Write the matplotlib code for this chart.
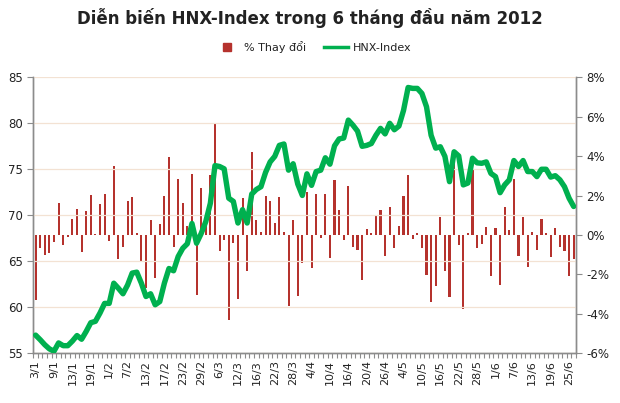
import matplotlib
matplotlib.use("Agg")
import matplotlib.pyplot as plt
from matplotlib.lines import Line2D
from matplotlib.ticker import FuncFormatter

# Daily % change of HNX-Index (right axis), one value per trading day
pct_change = [
    -3.3, -0.68, -1.0, -0.9, -0.34, 1.6, -0.5, -0.1, 0.8, 1.3,
    -0.85, 1.2, 2.05, 0.05, 1.55, 2.1, -0.3, 3.5, -1.2, -0.6,
    1.7, 1.9, 0.1, -1.35, -2.7, 0.78, -2.2, 0.57, 2.0, 3.97,
    -0.63, 2.82, 1.64, 0.45, 3.1, -3.06, 2.37, 1.0, 3.04, 5.68,
    -0.82, -0.25, -4.3, -0.41, -3.25, 1.87, -1.84, 4.19, 0.77, 0.16,
    2.0, 1.7, 0.6, 1.9, 0.16, -3.63, 0.74, -3.1, -1.42, 2.2,
    -1.69, 2.1, -0.17, 2.1, -1.18, 2.77, 1.27, -0.25, 2.5, -0.59,
    -0.79, -2.3, 0.32, 0.09, 1.0, 1.24, -1.08, 1.41, -0.67, 0.43,
    1.96, 3.06, -0.2, 0.12, -0.68, -2.03, -3.41, -2.6, 0.93, -1.85,
    -3.13, 4.0, -0.51, -3.78, 0.08, 3.3, -0.68, -0.46, 0.42, -2.08,
    0.35, -2.54, 1.44, 0.27, 2.82, -1.08, 0.93, -1.62, 0.17, -0.76,
    0.79, 0.08, -1.13, 0.35, -0.63, -0.8, -2.08, -1.2,
]

# HNX-Index close (left axis)
hnx_index = [
    56.95, 56.45, 55.9, 55.45, 55.2, 56.1, 55.8, 55.8, 56.3, 56.9,
    56.5, 57.35, 58.3, 58.45, 59.35, 60.4, 60.4, 62.6, 62.05, 61.45,
    62.4, 63.7, 63.8, 62.6, 61.15, 61.45, 60.25, 60.6, 62.6, 64.2,
    63.95, 65.5, 66.4, 66.9, 69.1, 66.95, 68.0, 69.3, 71.3, 75.4,
    75.3, 75.05, 71.85, 71.5, 69.15, 70.6, 69.15, 72.3, 72.8, 73.1,
    74.65, 75.8, 76.4, 77.6, 77.75, 74.9, 75.6, 73.4, 72.15, 74.5,
    73.25, 74.75, 74.9, 76.25, 75.55, 77.55, 78.3, 78.4, 80.35, 79.8,
    79.15, 77.5, 77.6, 77.8, 78.7, 79.45, 78.85, 80.0, 79.3, 79.7,
    81.4, 83.9, 83.8, 83.8, 83.25, 81.8, 78.7, 77.3, 77.45, 76.4,
    73.65, 76.9, 76.45, 73.3, 73.5, 76.2, 75.7, 75.65, 75.8, 74.55,
    74.2, 72.45, 73.3, 73.85, 75.95, 75.3, 75.95, 74.75, 74.75, 74.2,
    75.0, 75.0, 74.15, 74.3, 73.85, 73.1, 71.85, 70.95,
]

# Date labels shown every 4th trading day
tick_labels = [
    "3/1", "9/1", "13/1", "19/1", "1/2", "7/2", "13/2", "17/2", "23/2", "29/2",
    "6/3", "12/3", "16/3", "22/3", "28/3", "4/4", "10/4", "16/4", "20/4", "26/4",
    "4/5", "10/5", "16/5", "22/5", "28/5", "1/6", "7/6", "13/6", "19/6", "25/6",
]

bar_color = "#B5322D"
line_color = "#00B04F"
grid_color = "#F3E2D3"
axis_color = "#8C8C8C"
text_color = "#222222"

n = len(hnx_index)
x = list(range(n))

fig = plt.figure(figsize=(6.2, 4.03), dpi=100)
ax = fig.add_axes([0.0537, 0.124, 0.8753, 0.684])
ax2 = ax.twinx()

# bars on the right (percent) axis
ax2.bar(x, pct_change, width=0.45, color=bar_color, zorder=2)
ax2.set_ylim(-6, 8)
ax2.set_yticks(range(-6, 9, 2))
ax2.yaxis.set_major_formatter(FuncFormatter(lambda v, p: f"{int(v)}%"))

# line on the left (index) axis, drawn on top
ax.set_zorder(ax2.get_zorder() + 1)
ax.patch.set_visible(False)
ax.plot(x, hnx_index, color=line_color, linewidth=3.9, solid_joinstyle="round",
        solid_capstyle="round", zorder=3)
ax.set_ylim(55, 85)
ax.set_yticks(range(55, 86, 5))
ax.grid(axis="y", color=grid_color, linewidth=0.9, zorder=0)
ax.set_axisbelow(True)

ax.set_xlim(-0.5, n - 0.5)
ax.set_xticks(range(0, n, 4))
ax.set_xticklabels(tick_labels[: len(range(0, n, 4))], rotation=90)
ax.set_xticks([i - 0.5 for i in range(n + 1)], minor=True)
ax.tick_params(axis="x", which="major", length=0, pad=5, labelsize=8, colors=text_color)
ax.tick_params(axis="x", which="minor", length=3.5, color=axis_color, width=0.8)
ax.tick_params(axis="y", length=4, color=axis_color, labelsize=8.5, labelcolor=text_color)
ax2.tick_params(axis="y", length=4, color=axis_color, labelsize=8.5, labelcolor=text_color)

for a in (ax, ax2):
    a.spines["top"].set_visible(False)
    for s in ("left", "right", "bottom"):
        a.spines[s].set_color(axis_color)
        a.spines[s].set_linewidth(1.0)

fig.text(0.5, 0.955, "Diễn biến HNX-Index trong 6 tháng đầu năm 2012",
         ha="center", va="center", fontsize=12, fontweight="bold", color=text_color)

handles = [
    Line2D([0], [0], linestyle="none", marker="s", markersize=6,
           markerfacecolor=bar_color, markeredgecolor=bar_color),
    Line2D([0], [0], color=line_color, linewidth=2.5),
]
fig.legend(handles, ["% Thay đổi", "HNX-Index"], loc="center", bbox_to_anchor=(0.505, 0.883),
           ncol=2, frameon=False, fontsize=8, handlelength=2.2,
           columnspacing=1.6, handletextpad=0.4, labelcolor=text_color)

fig.savefig("out.png", dpi=100)
